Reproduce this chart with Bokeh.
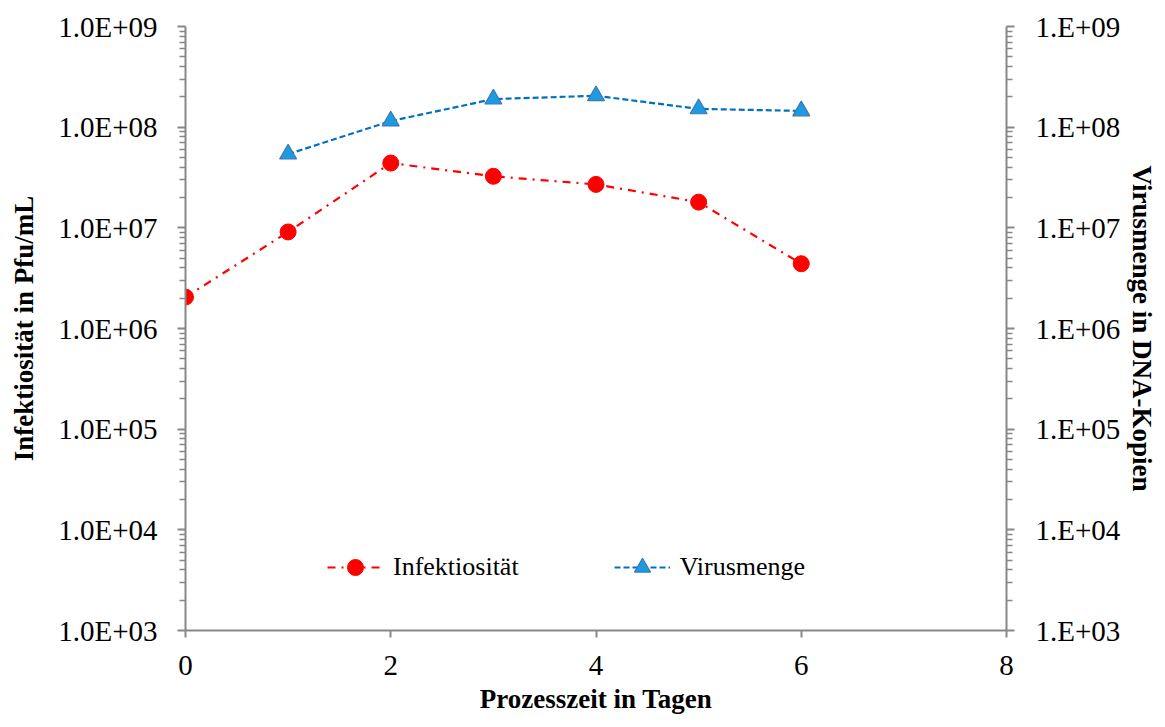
from bokeh.plotting import figure
from bokeh.models import (LogAxis, FixedTicker, CustomJSTickFormatter, Legend,
                          LegendItem, Range1d)
from bokeh.embed import file_html
from bokeh.resources import INLINE

# ---- data ----
days_inf = [0, 1, 2, 3, 4, 5, 6]
infektiositaet = [2.05e6, 9.1e6, 4.4e7, 3.25e7, 2.7e7, 1.8e7, 4.4e6]
days_vir = [1, 2, 3, 4, 5, 6]
virusmenge = [5.4e7, 1.15e8, 1.9e8, 2.05e8, 1.52e8, 1.45e8]
x_ticks = [0, 2, 4, 6, 8]
y_ticks = [1e3, 1e4, 1e5, 1e6, 1e7, 1e8, 1e9]
y_minor = [m * t for t in y_ticks[:-1] for m in range(2, 10)]

FONT = "Liberation Serif"
AXC = "#878787"

p = figure(width=1160, height=716, y_axis_type="log",
           x_range=Range1d(0, 8), y_range=Range1d(1e3, 1e9),
           output_backend="svg", toolbar_location=None,
           min_border_left=185, min_border_right=151,
           min_border_top=26, min_border_bottom=86)
p.outline_line_color = None
p.xgrid.visible = False
p.ygrid.visible = False
p.background_fill_color = "white"

l1 = p.line(days_inf, infektiositaet, line_color="#FF0000", line_width=2.2,
            line_dash="8 6 2 6")
c1 = p.scatter(days_inf, infektiositaet, marker="circle", size=16,
               fill_color="#FF0000", line_color="#FF0000")
l2 = p.line(days_vir, virusmenge, line_color="#0070C0", line_width=2.2,
            line_dash="6 3")
c2 = p.scatter(days_vir, virusmenge, marker="triangle", size=17,
               fill_color="#1E9BE0", line_color="#3A78B8", line_width=1.2)

# x axis
xa = p.xaxis[0]
xa.ticker = FixedTicker(ticks=x_ticks)
xa.axis_line_color = AXC
xa.axis_line_width = 2
xa.major_tick_line_color = AXC
xa.major_tick_line_width = 2
xa.major_tick_in = 0
xa.major_tick_out = 7
xa.minor_tick_line_color = None
xa.major_label_text_font = FONT
xa.major_label_text_font_size = "29px"
xa.major_label_text_color = "black"
xa.major_label_standoff = 18
xa.axis_label = "Prozesszeit in Tagen"
xa.axis_label_text_font = FONT
xa.axis_label_text_font_size = "27px"
xa.axis_label_text_font_style = "bold"
xa.axis_label_text_color = "black"
xa.axis_label_standoff = 6

def style_y(ax, fmt_prefix, title, label_standoff, title_standoff):
    ax.ticker = FixedTicker(ticks=y_ticks, minor_ticks=y_minor)
    ax.formatter = CustomJSTickFormatter(code=(
        "const e = Math.round(Math.log10(tick));"
        "return '%s' + (e < 10 ? '0' : '') + e;" % fmt_prefix))
    ax.axis_line_color = AXC
    ax.axis_line_width = 2
    ax.major_tick_line_color = AXC
    ax.major_tick_line_width = 2
    ax.major_tick_in = 0
    ax.major_tick_out = 8
    ax.minor_tick_line_color = AXC
    ax.minor_tick_line_width = 1.5
    ax.minor_tick_in = 0
    ax.minor_tick_out = 6
    ax.major_label_text_font = FONT
    ax.major_label_text_font_size = "29px"
    ax.major_label_text_color = "black"
    ax.major_label_standoff = label_standoff
    ax.axis_label = title
    ax.axis_label_text_font = FONT
    ax.axis_label_text_font_size = "27px"
    ax.axis_label_text_font_style = "bold"
    ax.axis_label_text_color = "black"
    ax.axis_label_standoff = title_standoff

style_y(p.yaxis[0], "1.0E+", "Infektiosität in Pfu/mL", 20, 16)

ra = LogAxis()
style_y(ra, "1.E+", "Virusmenge in DNA-Kopien", 21, 4)
p.add_layout(ra, "right")

legend = Legend(items=[LegendItem(label="Infektiosität", renderers=[l1, c1]),
                       LegendItem(label="Virusmenge", renderers=[l2, c2])],
                orientation="horizontal", location=(142, 43),
                padding=0, margin=0, spacing=95,
                glyph_width=56, glyph_height=40, label_height=40,
                label_standoff=10,
                label_text_font=FONT, label_text_font_size="26px",
                label_text_color="black",
                border_line_color=None, background_fill_alpha=0)
p.add_layout(legend)

open("out.html", "w").write(file_html(p, INLINE))
